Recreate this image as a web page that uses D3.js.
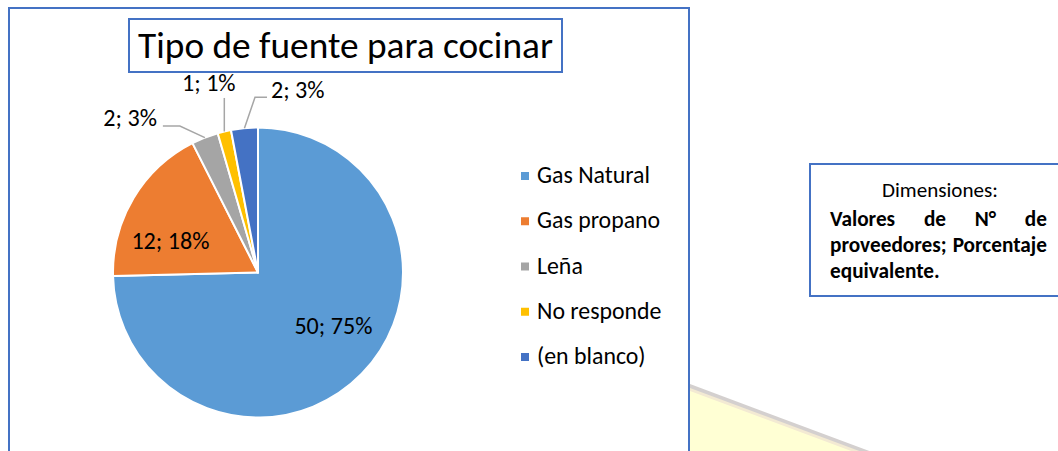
<!DOCTYPE html>
<html><head><meta charset="utf-8">
<script src="https://cdn.jsdelivr.net/npm/d3@7"></script>
<style>html,body{margin:0;padding:0;background:#fff;}svg{display:block;}</style>
</head><body>
<svg id="c" width="1058" height="451"></svg>
<script>
const categories = ["Gas Natural", "Gas propano", "Leña", "No responde", "(en blanco)"];
const values = [50, 12, 2, 1, 2];
const colors = ["#5B9BD5", "#ED7D31", "#A5A5A5", "#FFC000", "#4472C4"];
const chartTitle = "Tipo de fuente para cocinar";
const noteTitle = "Dimensiones:";
const noteLines = [["Valores", "de", "N°", "de"], ["proveedores;", "Porcentaje"], ["equivalente."]];

const FONT = "Carlito, Calibri, Lato, sans-serif";
const svg = d3.select("#c");
const BLUE = "#4472C4";

function fit(sel, target) {
  let s = parseFloat(sel.attr("font-size")) || 20;
  const w = sel.node().getComputedTextLength();
  s = s * target / w;
  sel.attr("font-size", s);
  return s;
}

// decorative yellow shape bottom right
svg.append("polygon").attr("points", "690,384 880,455 690,455").attr("fill", "#D4D0CF");
svg.append("polygon").attr("points", "690,388 870,455 690,455").attr("fill", "#F3EAD3");
svg.append("polygon").attr("points", "690,391 862,455 690,455").attr("fill", "#FFFFD4");

// outer chart frame
svg.append("rect").attr("x", 9).attr("y", 8).attr("width", 680).attr("height", 460)
  .attr("fill", "none").attr("stroke", BLUE).attr("stroke-width", 2);

// title
svg.append("rect").attr("x", 129).attr("y", 19).attr("width", 433).attr("height", 53)
  .attr("fill", "#fff").attr("stroke", BLUE).attr("stroke-width", 2);
const t = svg.append("text").attr("x", 345.5).attr("y", 58).attr("text-anchor", "middle")
  .attr("font-family", FONT).attr("font-size", 32).attr("fill", "#000").text(chartTitle);
fit(t, 415);

// pie
const cx = 258, cy = 272.5, R = 145;
const total = d3.sum(values);
const pie = d3.pie().sort(null).value(d => d)(values);
const arc = d3.arc().innerRadius(0).outerRadius(R);
const g = svg.append("g").attr("transform", `translate(${cx},${cy})`);
g.selectAll("path").data(pie).join("path")
  .attr("d", arc).attr("fill", (d, i) => colors[i])
  .attr("stroke", "#fff").attr("stroke-width", 2).attr("stroke-linejoin", "round");

const pct = d3.format(".0%");
const labelText = (i) => `${values[i]}; ${pct(values[i] / total)}`;

// measure font size for labels
const probe = svg.append("text").attr("font-family", FONT).attr("font-size", 19).text(labelText(0));
const labelSize = fit(probe, 78);
probe.remove();

const mid = d => (d.startAngle + d.endAngle) / 2;
const edge = d => [Math.sin(mid(d)) * R, -Math.cos(mid(d)) * R];

// inside labels
const inside = [{i: 0, nudge: [9, -12]}, {i: 1, nudge: [-8, 16]}];
inside.forEach(o => {
  const d = pie[o.i];
  const c = d3.arc().innerRadius(0).outerRadius(R * 1.28).centroid(d);
  g.append("text").attr("x", c[0] + o.nudge[0]).attr("y", c[1] + o.nudge[1])
    .attr("text-anchor", "middle").attr("dominant-baseline", "central")
    .attr("font-family", FONT).attr("font-size", labelSize).attr("fill", "#000")
    .text(labelText(o.i));
});

// outside labels with leaders
const outside = [
  {i: 2, elbow: [-25, -11.5], end: [-17, 0], text: [-6, 0], anchor: "end"},
  {i: 3, elbow: [0, -33.5], end: [0, 0], text: [-15.5, -7], anchor: "middle"},
  {i: 4, elbow: [10.6, -31], end: [12, 0], text: [4, 1], anchor: "start"}
];
outside.forEach(o => {
  const d = pie[o.i];
  const p0 = edge(d);
  const p1 = [p0[0] + o.elbow[0], p0[1] + o.elbow[1]];
  const p2 = [p1[0] + o.end[0], p1[1] + o.end[1]];
  g.append("path").attr("d", d3.line()([p0, p1, p2]))
    .attr("fill", "none").attr("stroke", "#A6A6A6").attr("stroke-width", 1.5);
  g.append("text").attr("x", p2[0] + o.text[0]).attr("y", p2[1] + o.text[1])
    .attr("text-anchor", o.anchor)
    .attr("font-family", FONT).attr("font-size", labelSize).attr("fill", "#000")
    .text(labelText(o.i));
});

// legend
const legY = d3.scalePoint().domain(categories).range([183, 364]);
const lg = svg.append("g");
const lp = lg.append("text").attr("font-family", FONT).attr("font-size", 19).text(categories[0]);
const legSize = fit(lp, 113);
lp.remove();
categories.forEach((c, i) => {
  lg.append("rect").attr("x", 521).attr("y", legY(c) - 11).attr("width", 8).attr("height", 8)
    .attr("fill", colors[i]);
  lg.append("text").attr("x", 537).attr("y", legY(c)).attr("font-family", FONT)
    .attr("font-size", legSize).attr("fill", "#000").text(c);
});

// note box
svg.append("rect").attr("x", 810).attr("y", 164).attr("width", 260).attr("height", 132)
  .attr("fill", "#fff").attr("stroke", BLUE).attr("stroke-width", 2);
const nt = svg.append("text").attr("x", 940).attr("y", 197).attr("text-anchor", "middle")
  .attr("font-family", FONT).attr("font-size", 16).attr("fill", "#000").text(noteTitle);
fit(nt, 116);
const pr = svg.append("text").attr("font-family", FONT).attr("font-weight", "bold")
  .attr("font-size", 16).text(noteLines[1].join(" "));
const noteSize = fit(pr, 216);
pr.remove();
const lineY = d3.scalePoint().domain(d3.range(noteLines.length)).range([226, 278]);
const left = 830, right = 1047;
noteLines.forEach((words, li) => {
  const y = lineY(li);
  if (li === noteLines.length - 1) {
    svg.append("text").attr("x", left).attr("y", y).attr("font-family", FONT)
      .attr("font-weight", "bold").attr("font-size", noteSize).text(words.join(" "));
    return;
  }
  const nodes = words.map(w => svg.append("text").attr("y", y).attr("font-family", FONT)
    .attr("font-weight", "bold").attr("font-size", noteSize).text(w));
  const widths = nodes.map(n => n.node().getComputedTextLength());
  const gap = (right - left - d3.sum(widths)) / (words.length - 1);
  let x = left;
  nodes.forEach((n, k) => { n.attr("x", x); x += widths[k] + gap; });
});
</script>
</body></html>
